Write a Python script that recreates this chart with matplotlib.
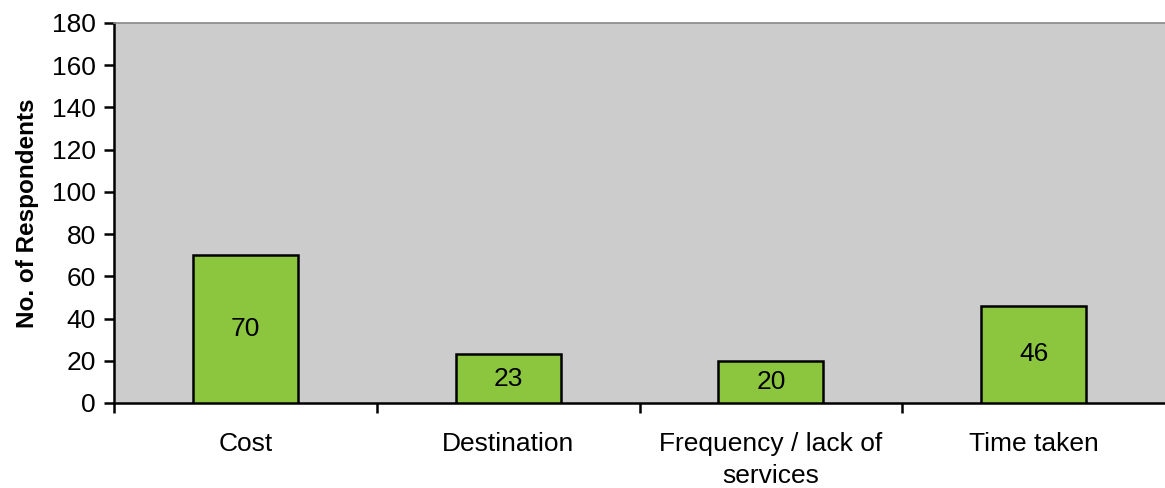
import matplotlib
matplotlib.use("Agg")
from matplotlib import pyplot as plt
import numpy as np

# data
categories = ["Cost", "Destination", "Frequency / lack of\nservices", "Time taken"]
respondents = [70, 23, 20, 46]

plt.rcParams['font.family'] = ['Liberation Sans', 'DejaVu Sans']

fig = plt.figure(figsize=(11.65, 4.88), dpi=100)
ax = fig.add_axes([114/1165, 1 - 403/488, 1 - 114/1165, (403 - 23)/488])
ax.set_facecolor('#cccccc')

x = np.arange(len(categories))
bars = ax.bar(x, respondents, width=0.4, color='#8cc63f', edgecolor='black', linewidth=1.8, zorder=3)

for b, v in zip(bars, respondents):
    ax.text(b.get_x() + b.get_width()/2, v/2, str(v), ha='center', va='center', fontsize=19, zorder=4)

ax.set_xlim(-0.5, len(categories) - 0.5)
ax.set_ylim(0, 180)
ax.set_yticks(np.arange(0, 181, 20))
ax.tick_params(axis='y', labelsize=19, length=7, width=1.8, direction='out', pad=6)

# category labels between boundary ticks
ax.set_xticks(np.arange(-0.5, len(categories) - 0.5, 1.0))
ax.set_xticklabels([])
ax.tick_params(axis='x', length=7, width=1.8, direction='out')
ax.set_xticks(x, minor=True)
ax.set_xticklabels(categories, minor=True, fontsize=19, linespacing=1.4)
ax.tick_params(axis='x', which='minor', length=0, pad=21)

ax.set_ylabel('No. of Respondents', fontsize=17.5, fontweight='bold', labelpad=9)

for s in ['left', 'bottom']:
    ax.spines[s].set_linewidth(1.8)
    ax.spines[s].set_color('black')
ax.spines['right'].set_visible(False)
ax.spines['top'].set_color('#888888')
ax.spines['top'].set_linewidth(1.2)

plt.savefig('out.png', dpi=100)
